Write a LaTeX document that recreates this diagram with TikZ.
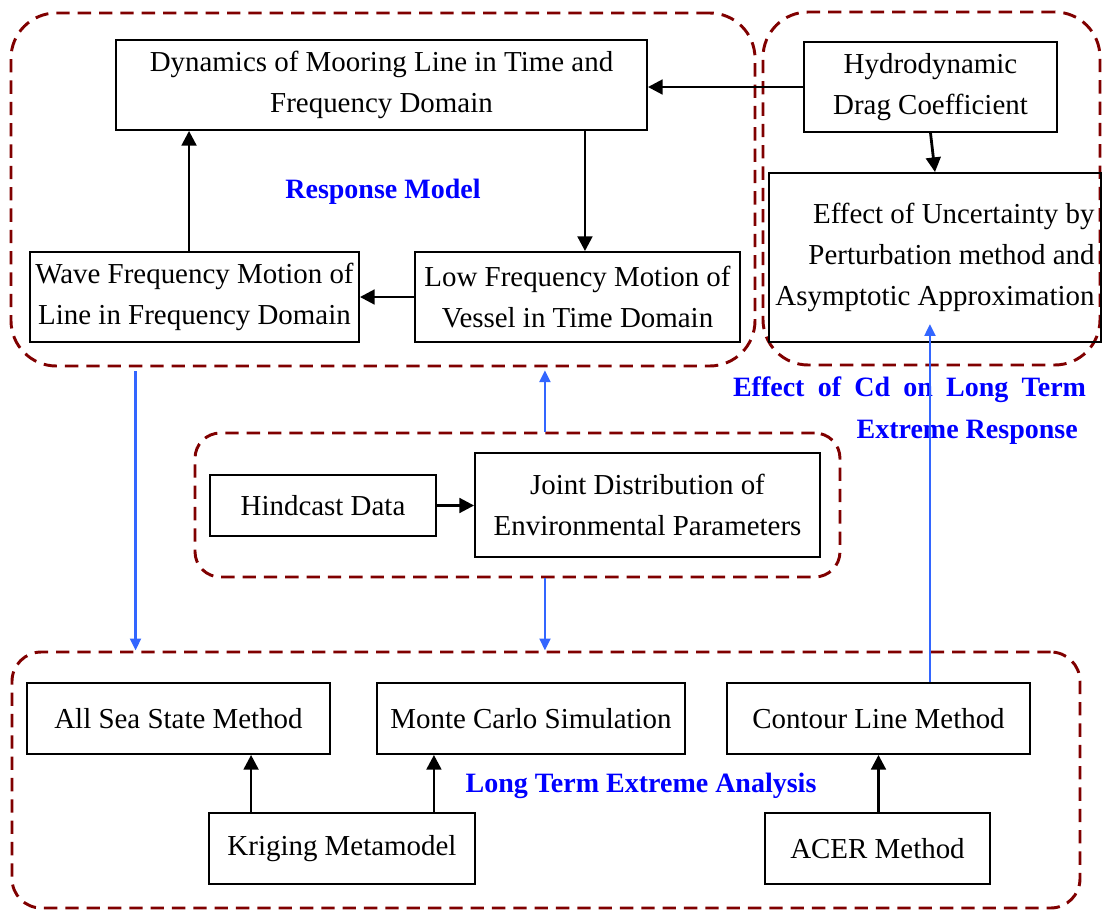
\documentclass[tikz,border=0pt]{standalone}
\usepackage{fontspec}
\setmainfont{Liberation Serif}
\usetikzlibrary{arrows.meta}
\definecolor{dred}{RGB}{128,0,0}
\definecolor{lblue}{RGB}{51,102,255}
\definecolor{tblue}{RGB}{0,0,255}
\begin{document}
\begin{tikzpicture}[x=0.75pt,y=-0.75pt,
  box/.style={draw, line width=1.4pt, align=center, inner sep=0pt,
    font=\fontsize{21.7}{30.5}\selectfont},
  grp/.style={draw=dred, line width=2.2pt, dash pattern=on 10pt off 6pt, rounded corners=#1},
  arr/.style={line width=2.1pt, -{Triangle[length=11pt,width=11pt]}},
  barr/.style={draw=lblue, line width=2.2pt, -{Triangle[length=9pt,width=8pt]}},
  lbl/.style={text=tblue, font=\fontsize{21}{30}\selectfont\bfseries, inner sep=0pt}
]
\useasboundingbox (0,0) rectangle (1104,910);

% groups
\node[grp=34pt, minimum width=558pt, minimum height=264.75pt] (g1) at (383,189.5) {};
\node[grp=34pt, minimum width=252.75pt, minimum height=264.75pt] (g2) at (931.5,188.5) {};
\node[grp=19pt, minimum width=483.75pt, minimum height=108pt] (g3) at (517.5,505) {};
\node[grp=22pt, minimum width=801pt, minimum height=192pt] (g4) at (546,780) {};

% boxes
\node[box, minimum width=398.25pt, minimum height=67.5pt] (dyn) at (381.5,85) {Dynamics of Mooring Line in Time and\\Frequency Domain};
\node[box, minimum width=189.75pt, minimum height=67.5pt] (hyd) at (930.5,87) {Hydrodynamic\\Drag Coefficient};
\node[box, align=right, minimum width=249pt, minimum height=126.75pt] (eff) at (935,257.5) {Effect of Uncertainty by\\Perturbation method and\\Asymptotic Approximation};
\node[box, minimum width=246.75pt, minimum height=67.5pt] (wave) at (194.5,297) {Wave Frequency Motion of\\Line in Frequency Domain};
\node[box, minimum width=243.75pt, minimum height=67.5pt] (low) at (577.5,297) {Low Frequency Motion of\\Vessel in Time Domain};
\node[box, minimum width=169.5pt, minimum height=45.75pt] (hind) at (323,505.5) {Hindcast Data};
\node[box, minimum width=258.75pt, minimum height=78pt] (joint) at (647.5,505) {Joint Distribution of\\Environmental Parameters};
\node[box, minimum width=227.25pt, minimum height=53.25pt] (allsea) at (178.5,718.5) {All Sea State Method};
\node[box, minimum width=231pt, minimum height=53.25pt] (monte) at (531,718.5) {Monte Carlo Simulation};
\node[box, minimum width=227.25pt, minimum height=53.25pt] (contour) at (878.5,718.5) {Contour Line Method};
\node[box, minimum width=199.5pt, minimum height=53.25pt] (krig) at (342,848.5) {Kriging Metamodel};
\node[box, minimum width=168.75pt, minimum height=53.25pt] (acer) at (877.5,848.5) {ACER Method};

% labels
\node[lbl] (rm) at (383,192) {Response Model};
\node[lbl] (lt) at (641,786) {Long Term Extreme Analysis};
\node[lbl] (cd1) at (909.5,390) {\makebox[264.75pt][s]{Effect of Cd on Long Term}};
\node[lbl, anchor=east] (cd2) at (1078,432) {Extreme Response};

% black arrows
\draw[arr] (hyd.west) -- (hyd.west -| dyn.east);
\draw[arr] (hyd.south) -- (eff.north);
\draw[arr] ([xshift=-4.1pt]wave.north) -- ([xshift=-4.1pt]wave.north |- dyn.south);
\draw[arr] ([xshift=5.6pt]low.north |- dyn.south) -- ([xshift=5.6pt]low.north);
\draw[arr] (low.west) -- (wave.east);
\draw[arr] (hind.east) -- (hind.east -| joint.west);
\draw[arr] ([xshift=32.25pt]krig.north west) -- ([xshift=32.25pt]krig.north west |- allsea.south);
\draw[arr] ([xshift=-31.5pt]krig.north east) -- ([xshift=-31.5pt]krig.north east |- monte.south);
\draw[arr] (acer.north -| contour.south) -- (contour.south);

% blue arrows
\draw[barr] ([xshift=94.5pt,yshift=-3pt]g1.south west) -- ([xshift=94.5pt]g1.south west |- g4.north);
\draw[barr] ([xshift=20.6pt]g3.north) -- ([xshift=20.6pt,yshift=-2pt]g3.north |- g1.south);
\draw[barr] ([xshift=20.6pt]g3.south) -- ([xshift=20.6pt]g3.south |- g4.north);
\draw[barr] ([xshift=38.6pt]contour.north) -- ([xshift=38.6pt,yshift=14.25pt]contour.north |- eff.south);
\end{tikzpicture}
\end{document}
